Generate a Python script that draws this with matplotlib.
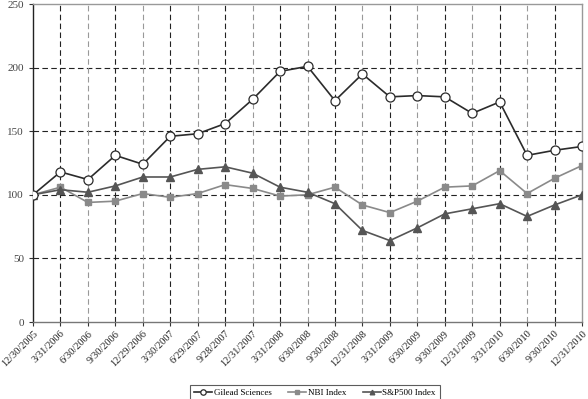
"""Cumulative total return comparison: Gilead vs NBI vs S&P500, 2005-2010."""

import matplotlib
matplotlib.use('Agg')
import matplotlib.pyplot as plt
import numpy as np

dates = ['12/30/2005', '3/31/2006', '6/30/2006', '9/30/2006', '12/29/2006',
         '3/30/2007', '6/29/2007', '9/28/2007', '12/31/2007', '3/31/2008',
         '6/30/2008', '9/30/2008', '12/31/2008', '3/31/2009', '6/30/2009',
         '9/30/2009', '12/31/2009', '3/31/2010', '6/30/2010', '9/30/2010',
         '12/31/2010']

gilead = [100, 118, 112, 131, 124, 146, 148, 156, 175, 197,
          201, 174, 195, 177, 178, 177, 164, 173, 131, 135, 138]
nbi = [100, 106, 94, 95, 101, 98, 101, 108, 105, 99,
       100, 106, 92, 86, 95, 106, 107, 119, 101, 113, 123]
sp500 = [100, 104, 102, 107, 114, 114, 120, 122, 117, 106,
         102, 93, 72, 64, 74, 85, 89, 93, 83, 92, 100]

plt.rcParams['font.family'] = ['Liberation Serif', 'DejaVu Serif']

fig = plt.figure(figsize=(5.88, 3.99), dpi=100)
ax = fig.add_axes([33 / 588, 1 - 322 / 399, 549 / 588, 318 / 399])

x = np.arange(len(dates))

ax.plot(x, gilead, color='#2b2b2b', lw=1.2, marker='o', ms=6.5,
        mfc='white', mec='#2b2b2b', mew=0.9, label='Gilead Sciences', zorder=4)
ax.plot(x, nbi, color='#8a8a8a', lw=1.2, marker='s', ms=4.8,
        mfc='#8a8a8a', mec='#8a8a8a', label='NBI Index', zorder=3)
ax.plot(x, sp500, color='#555555', lw=1.2, marker='^', ms=5.5,
        mfc='#555555', mec='#555555', label='S&P500 Index', zorder=3)

ax.set_xlim(0, len(dates) - 1)
ax.set_ylim(0, 250)
ax.set_yticks([0, 50, 100, 150, 200, 250])
ax.set_xticks(x)
ax.set_xticklabels(dates, rotation=45, ha='right', va='top',
                   rotation_mode='anchor', fontsize=7.5, color='#222222')
ax.tick_params(axis='y', labelsize=8, length=3, color='#333333',
               labelcolor='#444444')
ax.tick_params(axis='x', length=3, color='#333333', pad=2)

# dashed grid, vertical lines alternate black / grey
for yv in [50, 100, 150, 200]:
    ax.axhline(yv, color='#222222', lw=0.8, ls=(0, (5, 3)), zorder=1)
for i in x[1:-1]:
    c = '#222222' if i % 2 == 1 else '#999999'
    ax.axvline(i, color=c, lw=0.8, ls=(0, (5, 3)), zorder=1)

ax.spines['left'].set_color('#222222')
ax.spines['bottom'].set_color('#777777')
ax.spines['top'].set_color('#999999')
ax.spines['right'].set_color('#999999')
for s in ax.spines.values():
    s.set_linewidth(1.0)

leg = fig.legend(loc='upper center', bbox_to_anchor=(315 / 588, 1 - 380 / 399),
                 ncol=3, fontsize=6.5, frameon=True, fancybox=False,
                 edgecolor='#333333', handlelength=2.0, columnspacing=1.8,
                 handletextpad=0.2, borderpad=0.45, markerscale=0.6)
leg.get_frame().set_linewidth(0.8)

fig.savefig('out.png', dpi=100)
